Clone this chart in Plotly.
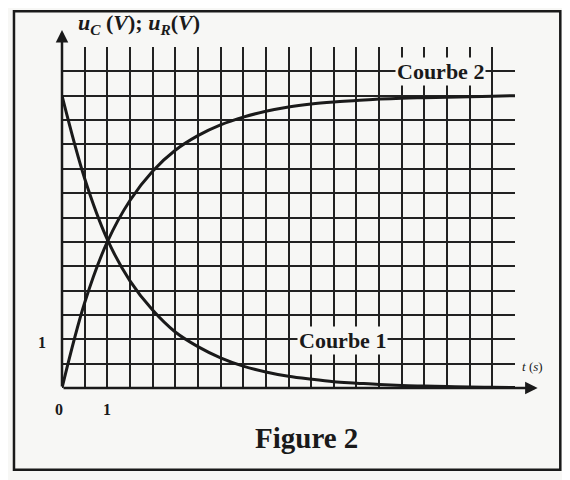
import plotly.graph_objects as go

# time (s) and voltages (V)
t = [0, 0.5, 1, 1.5, 2, 2.5, 3, 3.5, 4, 4.5, 5, 5.5, 6, 6.5, 7, 7.5, 8, 8.5, 9, 9.5, 10]
u_R = [6.0, 4.3, 3.05, 2.2, 1.6, 1.15, 0.85, 0.62, 0.45, 0.33, 0.24, 0.18, 0.13, 0.1,
       0.07, 0.05, 0.04, 0.03, 0.02, 0.015, 0.01]
u_C = [0.0, 1.75, 3.0, 3.85, 4.45, 4.88, 5.18, 5.4, 5.56, 5.68, 5.77, 5.83, 5.87, 5.9,
       5.93, 5.95, 5.96, 5.97, 5.98, 5.99, 6.0]

x_ticks = [0, 1]
y_ticks = [1]

font_serif = "Liberation Serif, DejaVu Serif, serif"
ink = "#1a1a1a"
paper = "#f7f7f5"

fig = go.Figure()
fig.add_trace(go.Scatter(x=t, y=u_R, mode="lines", line=dict(color=ink, width=3, shape="spline"),
                         name="Courbe 1", showlegend=False))
fig.add_trace(go.Scatter(x=t, y=u_C, mode="lines", line=dict(color=ink, width=3, shape="spline"),
                         name="Courbe 2", showlegend=False))

# page adds an 8px body margin, so the figure is 8px smaller than the window
fig.update_layout(
    width=562, height=472,
    margin=dict(l=54, r=55, t=39, b=92),
    paper_bgcolor=paper,
    plot_bgcolor=paper,
    font=dict(family=font_serif, color=ink, size=15),
    xaxis=dict(range=[0, 10], tickmode="linear", tick0=0, dtick=0.5, showgrid=True,
               gridcolor="#222", gridwidth=2, showticklabels=False, ticks="",
               zeroline=False, showline=False),
    yaxis=dict(range=[0, 7], tickmode="linear", tick0=0, dtick=0.5, showgrid=True,
               gridcolor="#222", gridwidth=2, showticklabels=False, ticks="",
               zeroline=False, showline=False),
)

# tick labels at axis positions
for v in x_ticks:
    fig.add_annotation(x=v, y=0, xref="x", yref="y", text=f"<b>{v}</b>", showarrow=False,
                       yshift=-21, xshift=-3 if v == 0 else 0, font=dict(size=16))
for v in y_ticks:
    fig.add_annotation(x=0, y=v, xref="x", yref="y", text=f"<b>{v}</b>", showarrow=False,
                       xshift=-20, yshift=-3, font=dict(size=16))

# axes with arrows
fig.add_annotation(x=0, y=7.35, ax=0, ay=0, xref="x", yref="y", axref="x", ayref="y",
                   showarrow=True, arrowhead=2, arrowsize=1, arrowwidth=2.5, arrowcolor=ink, text="")
fig.add_annotation(x=10.5, y=0, ax=0, ay=0, xref="x", yref="y", axref="x", ayref="y",
                   showarrow=True, arrowhead=2, arrowsize=1, arrowwidth=2.5, arrowcolor=ink, text="")

# axis titles
fig.add_annotation(x=0.03, y=1.02, xref="paper", yref="paper", xanchor="left", yanchor="bottom",
                   text="<b><i>u<sub>C</sub></i> (<i>V</i>); <i>u<sub>R</sub></i>(<i>V</i>)</b>",
                   showarrow=False, font=dict(size=22))
fig.add_annotation(x=1.01, y=0.035, xref="paper", yref="paper", xanchor="left", yanchor="bottom",
                   text="<i>t</i> (<i>s</i>)", showarrow=False, font=dict(size=13))

# curve labels
fig.add_annotation(x=8.35, y=6.5, xref="x", yref="y", text="<b>Courbe 2</b>", showarrow=False,
                   bgcolor=paper, font=dict(size=22))
fig.add_annotation(x=6.2, y=0.97, xref="x", yref="y", text="<b>Courbe 1</b>", showarrow=False,
                   bgcolor=paper, font=dict(size=22))

# caption
fig.add_annotation(x=0.54, y=-0.094, xref="paper", yref="paper", yanchor="top",
                   text="<b>Figure 2</b>", showarrow=False, font=dict(size=29))

# outer frame
fig.add_shape(type="rect", xref="paper", yref="paper", x0=-0.106, x1=1.1, y0=-0.24, y1=1.105,
              line=dict(color=ink, width=2.5))

fig.write_html("out.html")
